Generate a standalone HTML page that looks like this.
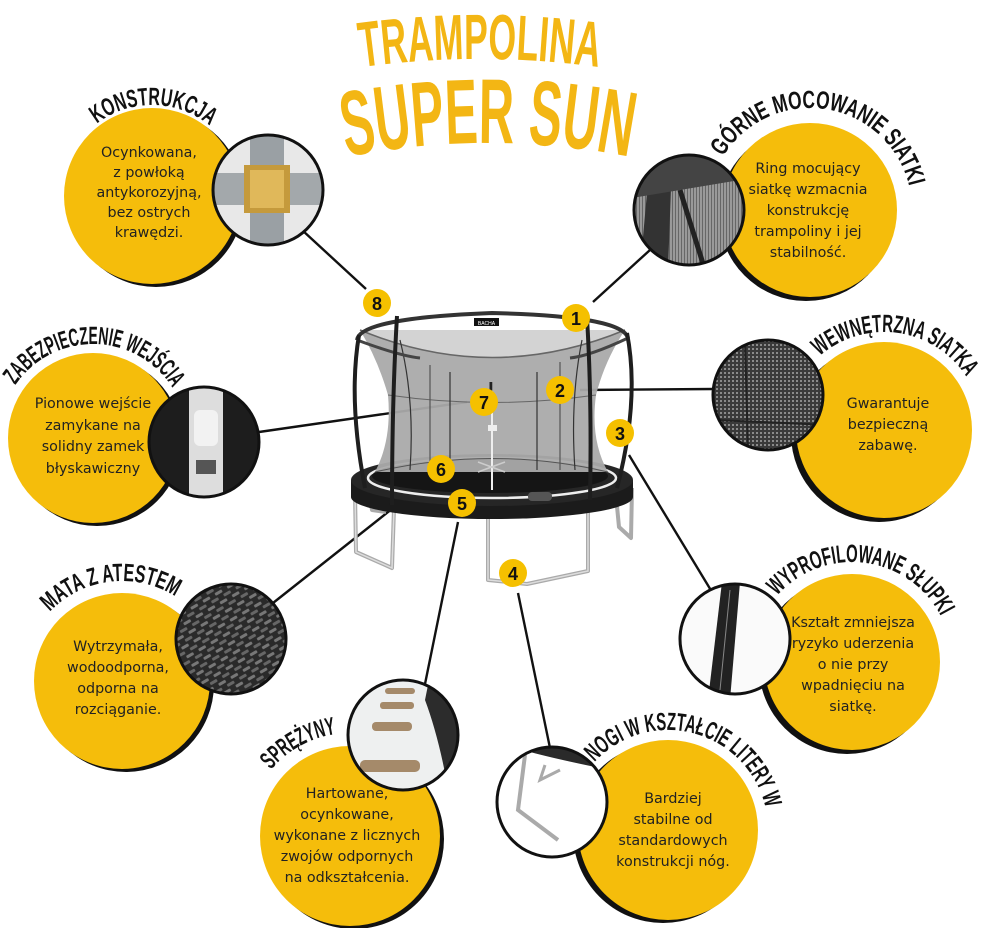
<!DOCTYPE html>
<html><head><meta charset="utf-8"><style>
html,body{margin:0;padding:0;background:#fff;}
svg{display:block;}
.t{font-family:"DejaVu Sans","Liberation Sans",sans-serif;font-size:14.3px;fill:#222;text-anchor:middle;}
.h{font-family:"Liberation Sans Narrow","Liberation Sans",sans-serif;font-weight:bold;font-size:25px;fill:#111;}
.n{font-family:"Liberation Sans",sans-serif;font-weight:bold;font-size:18px;fill:#111;text-anchor:middle;}
</style></head><body>
<svg width="982" height="928" viewBox="0 0 982 928" xmlns="http://www.w3.org/2000/svg">
<defs>
<path id="a1" d="M -91 0 A 91 91 0 0 1 91 0"/>
<path id="a2" d="M -102 0 A 102 102 0 0 1 102 0"/>
<path id="a3" d="M -94 0 A 94 94 0 0 1 94 0"/>
<path id="a4" d="M -98 0 A 98 98 0 0 1 98 0"/>
<path id="a5" d="M -100 0 A 100 100 0 0 1 100 0"/>
<path id="a6" d="M -100 0 A 100 100 0 0 1 100 0"/>
<path id="a7" d="M -103 0 A 103 103 0 0 1 103 0"/>
<path id="a8" d="M -100 0 A 100 100 0 0 1 100 0"/>
<path id="tt1" d="M 355 68 Q 480 50 605 68"/>
<path id="tt2" d="M 340 158 Q 488 128 636 158"/>
<clipPath id="c1"><circle cx="268" cy="190" r="55"/></clipPath>
<clipPath id="c2"><circle cx="689" cy="210" r="55"/></clipPath>
<clipPath id="c3"><circle cx="204" cy="442" r="55"/></clipPath>
<clipPath id="c4"><circle cx="768" cy="395" r="55"/></clipPath>
<clipPath id="c5"><circle cx="231" cy="639" r="55"/></clipPath>
<clipPath id="c6"><circle cx="735" cy="639" r="55"/></clipPath>
<clipPath id="c7"><circle cx="403" cy="735" r="55"/></clipPath>
<clipPath id="c8"><circle cx="552" cy="802" r="55"/></clipPath>
<pattern id="weave" width="14" height="10" patternUnits="userSpaceOnUse" patternTransform="rotate(-30)">
<rect width="14" height="10" fill="#2a2a2a"/><rect x="1" y="1" width="8" height="3" rx="1" fill="#777"/><rect x="8" y="6" width="8" height="3" rx="1" fill="#666"/><rect x="-6" y="6" width="8" height="3" rx="1" fill="#666"/>
</pattern>
<pattern id="mesh" width="4" height="4" patternUnits="userSpaceOnUse">
<rect width="4" height="4" fill="#3a3a3a"/><rect width="2" height="2" fill="#8a8a8a"/>
</pattern>
<pattern id="mesh2" width="3" height="3" patternUnits="userSpaceOnUse">
<rect width="3" height="3" fill="#999"/><rect width="1" height="3" fill="#666"/>
</pattern>
</defs>

<text font-family="Liberation Sans Narrow, Liberation Sans, sans-serif" font-weight="bold" font-size="64" fill="#f3b614"><textPath href="#tt1" startOffset="50%" text-anchor="middle" textLength="238" lengthAdjust="spacingAndGlyphs">TRAMPOLINA</textPath></text>
<text font-family="Liberation Sans Narrow, Liberation Sans, sans-serif" font-weight="bold" font-size="92" fill="#f3b614"><textPath href="#tt2" startOffset="50%" text-anchor="middle" textLength="285" lengthAdjust="spacingAndGlyphs">SUPER SUN</textPath></text>

<g stroke="#111" stroke-width="2.4" fill="none">
<line x1="302" y1="230" x2="366" y2="289"/>
<line x1="593" y1="302" x2="650" y2="250"/>
<line x1="580" y1="390" x2="714" y2="389"/>
<line x1="467" y1="402" x2="259" y2="432"/>
<line x1="629" y1="455" x2="712" y2="592"/>
<line x1="426" y1="482" x2="273" y2="603"/>
<line x1="458" y1="522" x2="425" y2="684"/>
<line x1="518" y1="593" x2="550" y2="748"/>
</g>

<g>
<g fill="none" stroke="#aaa" stroke-width="4" stroke-linejoin="round">
<path d="M355 492 L356 552 L392 568 L394 508"/>
<path d="M370 500 L372 510 L386 512"/>
<path d="M488 515 L488 580 L527 584 L588 571 L588 506"/>
<path d="M616 496 L619 527 L631 538 L632 488"/>
</g>
<g fill="none" stroke="#ddd" stroke-width="1.5">
<path d="M355 492 L356 552 L392 568 L394 508"/>
<path d="M488 515 L488 580 L527 584 L588 571 L588 506"/>
</g>
<ellipse cx="492" cy="497" rx="141" ry="22" fill="#1b1b1b"/>
<rect x="351" y="480" width="282" height="17" fill="#1b1b1b"/>
<ellipse cx="492" cy="480" rx="141" ry="26" fill="#262626"/>
<ellipse cx="492" cy="478" rx="124" ry="20" fill="none" stroke="#eee" stroke-width="2.5"/>
<ellipse cx="490" cy="476" rx="118" ry="17" fill="#151515"/>
<rect x="528" y="492" width="24" height="9" rx="4" fill="#555"/>
<path d="M360 330 Q378 360 388 395 Q392 440 375 472 L608 472 Q590 440 596 395 Q605 360 625 330 Z" fill="#aaa" opacity="0.95"/>
<path d="M375 472 Q492 445 608 472" fill="none" stroke="#555" stroke-width="1"/>
<path d="M388 395 Q492 410 596 395" fill="none" stroke="#666" stroke-width="1"/>
<path d="M360 330 Q492 385 625 330" fill="#d3d3d3" stroke="#666" stroke-width="1.5"/>
<g stroke="#333" stroke-width="1.2" fill="none">
<path d="M400 340 Q415 400 410 470"/>
<path d="M450 372 L450 470"/>
<path d="M537 372 L537 470"/>
<path d="M582 340 Q570 400 575 470"/>
<path d="M430 365 L430 470" stroke="#555"/>
<path d="M560 362 L560 470" stroke="#555"/>
</g>
<line x1="492" y1="382" x2="492" y2="490" stroke="#eee" stroke-width="2"/>
<line x1="491" y1="382" x2="491" y2="395" stroke="#222" stroke-width="3"/>
<rect x="488" y="425" width="9" height="6" fill="#eee"/>
<g stroke="#ccc" stroke-width="1.5"><line x1="478" y1="462" x2="505" y2="472"/><line x1="478" y1="472" x2="505" y2="462"/></g>
<path d="M357 340 Q360 318 492 313 Q622 316 628 338" fill="none" stroke="#333" stroke-width="4"/>
<path d="M357 340 Q400 356 420 358" fill="none" stroke="#444" stroke-width="3"/>
<path d="M628 338 Q590 356 570 358" fill="none" stroke="#444" stroke-width="3"/>
<rect x="474" y="318" width="25" height="8" fill="#111"/>
<text x="486.5" y="325" font-size="5" fill="#fff" text-anchor="middle" font-family="Liberation Sans, sans-serif">BACHA</text>
<g fill="none" stroke="#1e1e1e" stroke-width="4">
<path d="M359 335 Q348 400 365 488"/>
<path d="M627 333 Q640 400 617 488"/>
<path d="M397 316 Q392 400 392 505"/>
<path d="M587 318 Q592 400 590 500"/>
</g>
</g>

<g>
<circle cx="377" cy="303" r="14" fill="#f5c000"/><text class="n" x="377" y="310">8</text>
<circle cx="576" cy="318" r="14" fill="#f5c000"/><text class="n" x="576" y="325">1</text>
<circle cx="560" cy="390" r="14" fill="#f5c000"/><text class="n" x="560" y="397">2</text>
<circle cx="484" cy="402" r="14" fill="#f5c000"/><text class="n" x="484" y="409">7</text>
<circle cx="620" cy="433" r="14" fill="#f5c000"/><text class="n" x="620" y="440">3</text>
<circle cx="441" cy="469" r="14" fill="#f5c000"/><text class="n" x="441" y="476">6</text>
<circle cx="462" cy="503" r="14" fill="#f5c000"/><text class="n" x="462" y="510">5</text>
<circle cx="513" cy="573" r="14" fill="#f5c000"/><text class="n" x="513" y="580">4</text>
</g>

<g fill="#111">
<circle cx="156" cy="199" r="88"/>
<circle cx="806" cy="214" r="87"/>
<circle cx="97" cy="441" r="85"/>
<circle cx="879" cy="434" r="88"/>
<circle cx="126" cy="684" r="88"/>
<circle cx="847" cy="666" r="88"/>
<circle cx="354" cy="839" r="90"/>
<circle cx="663" cy="833" r="90"/>
</g>
<g fill="#f5bd0b">
<circle cx="152" cy="196" r="88"/>
<circle cx="810" cy="210" r="87"/>
<circle cx="93" cy="438" r="85"/>
<circle cx="884" cy="430" r="88"/>
<circle cx="122" cy="681" r="88"/>
<circle cx="852" cy="662" r="88"/>
<circle cx="350" cy="836" r="90"/>
<circle cx="668" cy="830" r="90"/>
</g>

<g clip-path="url(#c1)"><rect x="200" y="120" width="140" height="140" fill="#e8e8e8"/>
<rect x="250" y="120" width="34" height="140" fill="#9aa0a4"/><rect x="200" y="173" width="140" height="32" fill="#a3a8ab"/>
<rect x="244" y="165" width="46" height="48" fill="#c59a3c"/><rect x="250" y="170" width="34" height="38" fill="#e0b85a"/></g>
<circle cx="268" cy="190" r="55" fill="none" stroke="#111" stroke-width="3"/>

<g clip-path="url(#c2)"><rect x="620" y="140" width="140" height="140" fill="url(#mesh2)"/>
<path d="M650 160 L640 270 L668 270 L672 160 Z" fill="#333"/><path d="M680 190 L705 270" stroke="#222" stroke-width="5"/>
<path d="M620 150 L760 150 L740 180 L620 200 Z" fill="#444"/></g>
<circle cx="689" cy="210" r="55" fill="none" stroke="#111" stroke-width="3"/>

<g clip-path="url(#c3)"><rect x="140" y="380" width="130" height="130" fill="#1d1d1d"/>
<rect x="189" y="388" width="34" height="110" fill="#ddd"/><rect x="194" y="410" width="24" height="36" rx="6" fill="#f2f2f2"/><rect x="196" y="460" width="20" height="14" fill="#555"/></g>
<circle cx="204" cy="442" r="55" fill="none" stroke="#111" stroke-width="3"/>

<g clip-path="url(#c4)"><rect x="700" y="330" width="140" height="130" fill="url(#mesh)"/>
<line x1="745" y1="340" x2="748" y2="450" stroke="#222" stroke-width="2"/><line x1="715" y1="420" x2="830" y2="425" stroke="#222" stroke-width="2"/></g>
<circle cx="768" cy="395" r="55" fill="none" stroke="#111" stroke-width="3"/>

<g clip-path="url(#c5)"><rect x="170" y="580" width="130" height="120" fill="url(#weave)"/></g>
<circle cx="231" cy="639" r="55" fill="none" stroke="#111" stroke-width="3"/>

<g clip-path="url(#c6)"><rect x="670" y="580" width="130" height="120" fill="#fafafa"/>
<path d="M722 582 L740 582 L730 700 L708 700 Z" fill="#222"/><line x1="730" y1="590" x2="720" y2="690" stroke="#888" stroke-width="1"/></g>
<circle cx="735" cy="639" r="55" fill="none" stroke="#111" stroke-width="3"/>

<g clip-path="url(#c7)"><rect x="340" y="675" width="130" height="120" fill="#eef0f0"/>
<path d="M430 675 L470 675 L470 800 L450 800 Q440 740 425 700 Z" fill="#2c2c2c"/>
<g fill="#a58a6a"><rect x="385" y="688" width="30" height="6" rx="3"/><rect x="380" y="702" width="34" height="7" rx="3"/><rect x="372" y="722" width="40" height="9" rx="4"/><rect x="360" y="760" width="60" height="12" rx="5"/></g></g>
<circle cx="403" cy="735" r="55" fill="none" stroke="#111" stroke-width="3"/>

<g clip-path="url(#c8)"><rect x="490" y="740" width="130" height="130" fill="#fff"/>
<path d="M490 745 L620 745 L610 770 Q560 760 530 752 Z" fill="#2a2a2a"/>
<path d="M525 755 L518 810 L558 840" fill="none" stroke="#aaa" stroke-width="4"/><path d="M545 765 L540 780 L560 770" fill="none" stroke="#aaa" stroke-width="3"/></g>
<circle cx="552" cy="802" r="55" fill="none" stroke="#111" stroke-width="3"/>

<g transform="translate(152,196) rotate(1)"><text class="h"><textPath href="#a1" startOffset="50%" text-anchor="middle" textLength="122" lengthAdjust="spacingAndGlyphs">KONSTRUKCJA</textPath></text></g>
<g transform="translate(810,210) rotate(9)"><text class="h"><textPath href="#a2" startOffset="50%" text-anchor="middle" textLength="240" lengthAdjust="spacingAndGlyphs">GÓRNE MOCOWANIE SIATKI</textPath></text></g>
<g transform="translate(93,438) rotate(1)"><text class="h"><textPath href="#a3" startOffset="50%" text-anchor="middle" textLength="186" lengthAdjust="spacingAndGlyphs">ZABEZPIECZENIE WEJŚCIA</textPath></text></g>
<g transform="translate(884,430) rotate(8)"><text class="h"><textPath href="#a4" startOffset="50%" text-anchor="middle" textLength="168" lengthAdjust="spacingAndGlyphs">WEWNĘTRZNA SIATKA</textPath></text></g>
<g transform="translate(122,681) rotate(-7)"><text class="h"><textPath href="#a5" startOffset="50%" text-anchor="middle" textLength="137" lengthAdjust="spacingAndGlyphs">MATA Z ATESTEM</textPath></text></g>
<g transform="translate(852,662) rotate(7)"><text class="h"><textPath href="#a6" startOffset="50%" text-anchor="middle" textLength="194" lengthAdjust="spacingAndGlyphs">WYPROFILOWANE SŁUPKI</textPath></text></g>
<g transform="translate(350,836) rotate(-29)"><text class="h"><textPath href="#a7" startOffset="50%" text-anchor="middle" textLength="76" lengthAdjust="spacingAndGlyphs">SPRĘŻYNY</textPath></text></g>
<g transform="translate(668,830) rotate(15)"><text class="h"><textPath href="#a8" startOffset="50%" text-anchor="middle" textLength="217" lengthAdjust="spacingAndGlyphs">NOGI W KSZTAŁCIE LITERY W</textPath></text></g>

<text class="t"><tspan x="149" y="157">Ocynkowana,</tspan><tspan x="149" y="177">z powłoką</tspan><tspan x="149" y="197">antykorozyjną,</tspan><tspan x="149" y="217">bez ostrych</tspan><tspan x="149" y="237">krawędzi.</tspan></text>
<text class="t"><tspan x="808" y="173">Ring mocujący</tspan><tspan x="808" y="194">siatkę wzmacnia</tspan><tspan x="808" y="215">konstrukcję</tspan><tspan x="808" y="236">trampoliny i jej</tspan><tspan x="808" y="257">stabilność.</tspan></text>
<text class="t"><tspan x="93" y="408">Pionowe wejście</tspan><tspan x="93" y="430">zamykane na</tspan><tspan x="93" y="451">solidny zamek</tspan><tspan x="93" y="473">błyskawiczny</tspan></text>
<text class="t"><tspan x="888" y="408">Gwarantuje</tspan><tspan x="888" y="429">bezpieczną</tspan><tspan x="888" y="450">zabawę.</tspan></text>
<text class="t"><tspan x="118" y="651">Wytrzymała,</tspan><tspan x="118" y="672">wodoodporna,</tspan><tspan x="118" y="693">odporna na</tspan><tspan x="118" y="714">rozciąganie.</tspan></text>
<text class="t"><tspan x="853" y="627">Kształt zmniejsza</tspan><tspan x="853" y="648">ryzyko uderzenia</tspan><tspan x="853" y="669">o nie przy</tspan><tspan x="853" y="690">wpadnięciu na</tspan><tspan x="853" y="711">siatkę.</tspan></text>
<text class="t"><tspan x="347" y="798">Hartowane,</tspan><tspan x="347" y="819">ocynkowane,</tspan><tspan x="347" y="840">wykonane z licznych</tspan><tspan x="347" y="861">zwojów odpornych</tspan><tspan x="347" y="882">na odkształcenia.</tspan></text>
<text class="t"><tspan x="673" y="803">Bardziej</tspan><tspan x="673" y="824">stabilne od</tspan><tspan x="673" y="845">standardowych</tspan><tspan x="673" y="866">konstrukcji nóg.</tspan></text>
</svg>
</body></html>
